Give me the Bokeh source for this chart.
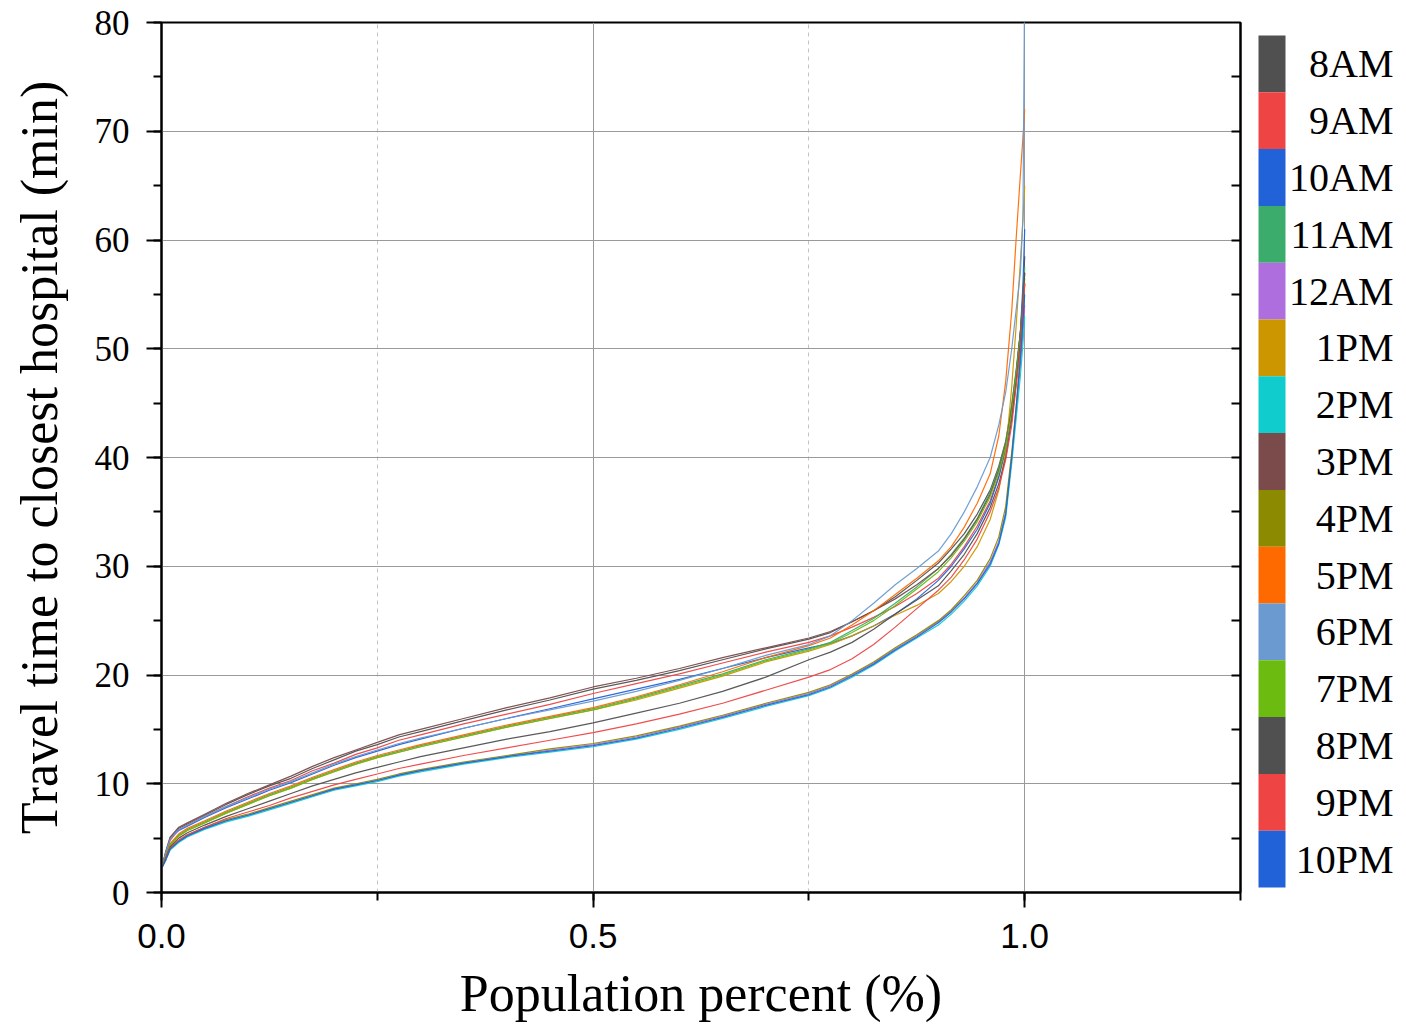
from bokeh.plotting import figure
from bokeh.models import Range1d, LinearAxis, SingleIntervalTicker, FixedTicker, NumeralTickFormatter
from bokeh.layouts import row
from bokeh.embed import file_html
from bokeh.resources import INLINE
from bokeh.core.properties import value

# Population percent (x) sample points shared by all series
population_pct = [0, 0.005, 0.01, 0.02, 0.03, 0.05, 0.075, 0.1,
                  0.125, 0.15, 0.175, 0.2, 0.225, 0.25, 0.275, 0.3,
                  0.35, 0.4, 0.45, 0.5,
                  0.55, 0.6, 0.65, 0.7, 0.75,
                  0.775, 0.8, 0.825, 0.85, 0.875, 0.9,
                  0.915, 0.93, 0.945, 0.96, 0.97, 0.978, 0.985, 0.99, 0.995, 0.998, 1.0]

hours = ["8AM", "9AM", "10AM", "11AM", "12AM", "1PM", "2PM", "3PM", "4PM",
         "5PM", "6PM", "7PM", "8PM", "9PM", "10PM"]

colors = ["#505050", "#ee4444", "#2262d8", "#3cac6c", "#ae6ede", "#cc9600", "#10cccc",
          "#7b4a4a", "#8c8a00", "#ff6a00", "#6a9ad0", "#6cbb10", "#505050", "#ee4444", "#2262d8"]

# Travel time to closest hospital (min) for each hour
t_8am = [2.2, 3.6, 4.9, 5.9, 6.3, 7.1, 8.1, 9.0, 9.8, 10.5, 11.4, 12.2, 13.0, 13.6, 14.3, 14.8,
         15.8, 16.8, 17.7, 18.7, 19.5, 20.4, 21.4, 22.4, 23.3, 23.9, 24.9, 25.9, 27.2, 28.7, 30.3,
         31.6, 33.0, 34.8, 37.0, 39.2, 41.5, 44.8, 47.8, 51.5, 55.0, 58.5]
t_9am = [2.2, 3.5, 4.8, 5.8, 6.2, 7.0, 7.9, 8.8, 9.6, 10.3, 11.2, 11.9, 12.7, 13.3, 14.0, 14.5,
         15.5, 16.4, 17.3, 18.3, 19.2, 20.1, 21.1, 22.1, 23.0, 23.6, 24.4, 25.3, 26.3, 27.5, 28.9,
         30.2, 31.8, 33.7, 36.0, 38.3, 40.8, 44.0, 47.0, 50.5, 53.5, 56.0]
t_10am = [2.2, 3.7, 5.0, 5.7, 6.1, 6.9, 7.8, 8.6, 9.4, 10.1, 10.9, 11.7, 12.4, 13.0, 13.6, 14.1,
          15.1, 16.0, 16.9, 17.8, 18.7, 19.6, 20.6, 21.6, 22.5, 22.9, 23.6, 24.5, 25.6, 27.0, 28.7,
          30.0, 31.6, 33.4, 35.8, 38.2, 40.8, 44.3, 47.6, 51.5, 56.0, 61.0]
t_11am = [2.2, 3.3, 4.4, 5.3, 5.8, 6.5, 7.4, 8.2, 9.0, 9.7, 10.5, 11.2, 11.9, 12.5, 13.0, 13.5,
          14.4, 15.3, 16.1, 16.9, 17.9, 19.0, 20.1, 21.4, 22.4, 23.0, 24.1, 25.2, 26.6, 28.1, 29.8,
          31.1, 32.6, 34.4, 36.8, 39.0, 41.4, 44.9, 48.0, 51.5, 54.5, 57.5]
t_12am = [2.2, 3.0, 4.0, 4.7, 5.2, 5.9, 6.6, 7.1, 7.7, 8.3, 8.9, 9.5, 9.9, 10.3, 10.8, 11.2,
          11.9, 12.5, 13.1, 13.6, 14.3, 15.2, 16.2, 17.3, 18.3, 19.0, 20.0, 21.1, 22.4, 23.6, 24.9,
          25.9, 27.1, 28.5, 30.4, 32.3, 35.0, 40.0, 44.0, 48.5, 51.5, 54.0]
t_1pm = [2.2, 3.2, 4.3, 5.2, 5.7, 6.4, 7.3, 8.1, 8.9, 9.6, 10.4, 11.1, 11.8, 12.4, 12.9, 13.4,
         14.3, 15.2, 16.0, 16.8, 17.7, 18.8, 19.9, 21.2, 22.2, 22.8, 23.6, 24.5, 25.5, 26.4, 27.5,
         28.6, 30.0, 31.8, 34.3, 37.0, 40.5, 46.5, 52.0, 58.0, 62.0, 65.0]
t_2pm = [2.2, 3.0, 3.9, 4.6, 5.1, 5.8, 6.5, 7.0, 7.6, 8.2, 8.8, 9.4, 9.8, 10.2, 10.7, 11.1,
         11.8, 12.4, 12.9, 13.4, 14.1, 15.0, 16.0, 17.1, 18.1, 18.8, 19.8, 20.9, 22.2, 23.4, 24.6,
         25.6, 26.8, 28.2, 30.0, 32.0, 34.5, 39.5, 43.5, 47.5, 50.5, 53.0]
t_3pm = [2.2, 3.8, 5.1, 6.0, 6.4, 7.2, 8.2, 9.1, 9.9, 10.7, 11.6, 12.4, 13.1, 13.8, 14.5, 15.0,
         16.0, 17.0, 17.9, 18.9, 19.7, 20.6, 21.6, 22.5, 23.4, 24.0, 24.9, 25.9, 27.0, 28.3, 29.8,
         31.0, 32.5, 34.3, 36.6, 38.8, 41.2, 44.5, 47.5, 51.5, 54.5, 57.0]
t_4pm = [2.2, 3.1, 4.1, 4.8, 5.3, 6.0, 6.7, 7.2, 7.8, 8.4, 9.0, 9.6, 10.0, 10.4, 10.9, 11.3,
         12.0, 12.6, 13.2, 13.7, 14.4, 15.3, 16.3, 17.4, 18.4, 19.1, 20.1, 21.2, 22.5, 23.7, 25.0,
         26.0, 27.3, 28.7, 30.7, 32.7, 35.5, 40.5, 44.5, 49.5, 53.0, 56.0]
t_5pm = [2.2, 3.4, 4.5, 5.4, 5.9, 6.6, 7.5, 8.3, 9.1, 9.8, 10.6, 11.3, 12.0, 12.6, 13.1, 13.6,
         14.5, 15.4, 16.2, 17.0, 18.0, 19.1, 20.3, 21.6, 22.7, 23.4, 24.6, 25.9, 27.4, 28.9, 30.5,
         31.8, 33.6, 35.8, 38.5, 42.0, 47.0, 53.5, 60.0, 66.0, 69.5, 72.0]
t_6pm = [2.2, 3.7, 4.9, 5.8, 6.2, 7.0, 7.9, 8.7, 9.5, 10.2, 11.0, 11.8, 12.5, 13.1, 13.7, 14.2,
         15.1, 16.0, 16.8, 17.6, 18.5, 19.5, 20.6, 21.8, 22.8, 23.6, 25.0, 26.6, 28.3, 29.8, 31.4,
         33.0, 35.0, 37.3, 40.0, 43.0, 46.0, 50.0, 53.5, 57.0, 62.0, 85.0]
t_7pm = [2.2, 3.3, 4.4, 5.2, 5.7, 6.4, 7.3, 8.1, 8.9, 9.6, 10.4, 11.1, 11.8, 12.4, 12.9, 13.4,
         14.3, 15.2, 16.0, 16.8, 17.8, 18.9, 20.0, 21.3, 22.3, 22.9, 23.9, 25.0, 26.4, 27.9, 29.5,
         30.8, 32.3, 34.1, 36.4, 38.6, 41.0, 44.2, 47.4, 51.0, 54.0, 56.5]
t_8pm = [2.2, 3.2, 4.2, 5.0, 5.5, 6.2, 7.0, 7.7, 8.4, 9.1, 9.8, 10.4, 11.0, 11.5, 12.0, 12.5,
         13.3, 14.1, 14.8, 15.6, 16.5, 17.4, 18.5, 19.8, 21.4, 22.1, 23.0, 24.2, 25.6, 26.9, 28.2,
         29.6, 31.1, 33.0, 35.4, 37.6, 40.0, 43.5, 46.8, 50.5, 54.0, 57.0]
t_9pm = [2.2, 3.1, 4.1, 4.8, 5.3, 6.0, 6.8, 7.4, 8.0, 8.7, 9.3, 9.9, 10.4, 10.9, 11.4, 11.8,
         12.6, 13.3, 14.0, 14.7, 15.5, 16.4, 17.4, 18.6, 19.8, 20.5, 21.5, 22.8, 24.4, 26.1, 27.8,
         29.0, 30.6, 32.5, 35.0, 37.2, 39.8, 43.0, 46.5, 50.0, 53.5, 56.0]
t_10pm = [2.2, 3.0, 4.0, 4.7, 5.2, 5.9, 6.6, 7.1, 7.7, 8.3, 8.9, 9.5, 9.9, 10.3, 10.8, 11.2,
          11.9, 12.5, 13.0, 13.5, 14.2, 15.1, 16.1, 17.2, 18.2, 18.9, 19.9, 21.0, 22.3, 23.5, 24.8,
          25.8, 27.0, 28.4, 30.2, 32.1, 34.8, 40.0, 44.5, 49.0, 52.5, 55.0]

series = [t_8am, t_9am, t_10am, t_11am, t_12am, t_1pm, t_2pm, t_3pm, t_4pm,
          t_5pm, t_6pm, t_7pm, t_8pm, t_9pm, t_10pm]

y_ticks_right_minor = [5, 10, 15, 20, 25, 30, 35, 40, 45, 50, 55, 60, 65, 70, 75]

SERIF = "Liberation Serif"
SANS = "Liberation Sans"

FIG_H = 1026
p = figure(width=1248, height=FIG_H, x_range=Range1d(0, 1.25), y_range=Range1d(0, 80),
           output_backend="svg", toolbar_location=None,
           min_border_left=161, min_border_right=8, min_border_top=22, min_border_bottom=134,
           x_axis_label="Population percent (%)",
           y_axis_label="Travel time to closest hospital (min)")
p.background_fill_color = "white"
p.border_fill_color = "white"
p.outline_line_color = "black"
p.outline_line_width = 2

for ys, c in zip(series, colors):
    n = min(len(population_pct), len(ys))
    p.line(population_pct[:n], ys[:n], line_color=c, line_width=1.2, line_alpha=0.95)

# axes
p.xaxis.ticker = SingleIntervalTicker(interval=0.5, num_minor_ticks=2)
p.xaxis.formatter = NumeralTickFormatter(format="0.0")
p.yaxis.ticker = SingleIntervalTicker(interval=10, num_minor_ticks=2)

for ax in (p.xaxis[0], p.yaxis[0]):
    ax.axis_line_width = 2
    ax.axis_line_color = "black"
    ax.major_tick_line_width = 2
    ax.minor_tick_line_width = 2
    ax.major_tick_line_color = "black"
    ax.minor_tick_line_color = "black"
    ax.major_tick_in = 0
    ax.major_tick_out = 15
    ax.minor_tick_in = 0
    ax.minor_tick_out = 8
    ax.axis_label_text_font = SERIF
    ax.axis_label_text_font_size = "52px"
    ax.axis_label_text_font_style = "normal"
    ax.axis_label_text_color = "black"
    ax.major_label_text_color = "black"

p.yaxis.major_label_text_font = SERIF
p.yaxis.major_label_text_font_size = "35px"
p.yaxis.major_label_standoff = 17
p.yaxis.axis_label_standoff = 24

p.xaxis.major_label_text_font = SANS
p.xaxis.major_label_text_font_size = "35px"
p.xaxis.major_label_standoff = 16
p.xaxis.axis_label_standoff = 14

ra = LinearAxis(ticker=FixedTicker(ticks=[], minor_ticks=y_ticks_right_minor),
                major_tick_in=0, major_tick_out=0, minor_tick_in=9, minor_tick_out=0,
                axis_line_width=2, minor_tick_line_width=2, minor_tick_line_color="black")
p.add_layout(ra, "right")

# grids
p.xgrid.grid_line_color = "#9a9a9a"
p.xgrid.grid_line_width = 1
p.xgrid.minor_grid_line_color = "#c4c4c4"
p.xgrid.minor_grid_line_dash = "4 4"
p.xgrid.minor_grid_line_width = 1
p.ygrid.grid_line_color = "#9a9a9a"
p.ygrid.grid_line_width = 1

# legend (colour bar) figure; its frame is aligned with the main frame (22..892 px)
FRAME_TOP, FRAME_BOTTOM = 22, 892
leg = figure(width=150, height=FIG_H, x_range=Range1d(0, 150),
             y_range=Range1d(FRAME_BOTTOM, FRAME_TOP),
             output_backend="svg", toolbar_location=None,
             min_border_left=0, min_border_right=0, min_border_top=22, min_border_bottom=134,
             x_axis_type=None, y_axis_type=None)
leg.grid.visible = False
leg.outline_line_color = None
leg.background_fill_color = "white"
leg.border_fill_color = "white"

block_top = 35.0
block_h = 56.8
tops = [block_top + i * block_h for i in range(len(hours))]
bottoms = [t + block_h for t in tops]
centers = [t + block_h / 2 for t in tops]
leg.quad(left=10, right=37, top=tops, bottom=bottoms, fill_color=colors, line_color=None)
leg.text(x=145, y=centers, text=hours, text_align="right", text_baseline="middle",
         text_font=value(SERIF), text_font_size="40px", text_color="black")

layout = row(p, leg)
open("out.html", "w").write(file_html(layout, INLINE))
